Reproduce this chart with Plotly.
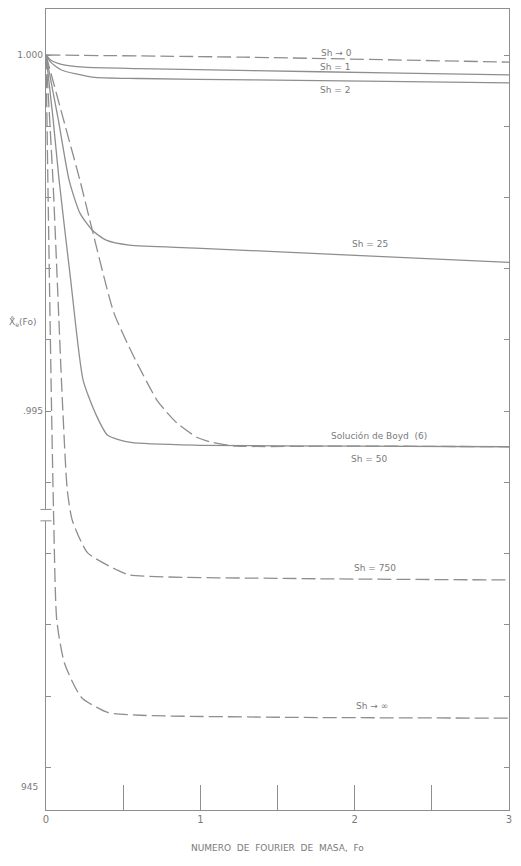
import plotly.graph_objects as go

# ---------------- data ----------------
fo_sh0 = [0, 1.28, 3.0]
x_sh0 = [1.0, 0.99997, 0.99990]

fo_sh1 = [0, 0.03, 0.10, 0.25, 0.60, 1.34, 2.20, 3.0]
x_sh1 = [1.0, 0.99993, 0.99987, 0.99983, 0.99981, 0.99978, 0.99975, 0.99972]

fo_sh2 = [0, 0.03, 0.10, 0.30, 0.60, 1.34, 2.20, 3.0]
x_sh2 = [1.0, 0.99990, 0.99979, 0.99969, 0.99967, 0.99965, 0.99963, 0.99961]

fo_sh25 = [0, 0.08, 0.15, 0.22, 0.30, 0.39, 0.54, 0.97, 1.97, 3.0]
x_sh25 = [1.0, 0.99909, 0.99824, 0.99778, 0.99754, 0.99740, 0.99733, 0.99729, 0.99719, 0.99709]

fo_boyd = [0, 0.11, 0.22, 0.30, 0.44, 0.57, 0.72, 0.78, 0.85, 0.98, 1.08, 1.23, 2.0, 3.0]
x_boyd = [1.0, 0.99912, 0.99824, 0.99754, 0.99638, 0.99576, 0.99515, 0.99499, 0.99483,
          0.99463, 0.99456, 0.99451, 0.99451, 0.99450]

fo_sh50 = [0, 0.045, 0.085, 0.16, 0.24, 0.32, 0.40, 0.55, 1.0, 2.0, 3.0]
x_sh50 = [1.0, 0.99912, 0.99824, 0.99684, 0.99544, 0.99497, 0.99466, 0.99456, 0.99452, 0.99451, 0.99450]

fo_sh750 = [0, 0.045, 0.106, 0.138, 0.17, 0.27, 0.46, 0.54, 1.62, 3.0]
x_sh750 = [1.0, 0.99824, 0.99515, 0.99389, 0.99347, 0.99301, 0.99277, 0.99270, 0.99265, 0.99263]

fo_shinf = [0, 0.012, 0.035, 0.05, 0.07, 0.12, 0.23, 0.40, 0.61, 1.63, 3.0]
x_shinf = [1.0, 0.99824, 0.99515, 0.99347, 0.99206, 0.99146, 0.99098, 0.99077, 0.99073, 0.99070, 0.99069]

x_ticks = [0, 0.5, 1, 1.5, 2, 2.5, 3]
x_ticktext = ["0", " ", "1", " ", "2", " ", "3"]
y_ticks = [0.990, 0.991, 0.992, 0.993, 0.994, 0.995, 0.996, 0.997, 0.998, 0.999, 1.000]
y_ticktext = [" ", " ", " ", " ", " ", ".995", " ", " ", " ", " ", "1.000"]

labels = [
    ("Sh → 0", 1.885, 1.000028),
    ("Sh = 1", 1.87, 0.999831),
    ("Sh = 2", 1.87, 0.999508),
    ("Sh = 25", 2.10, 0.997346),
    ("Solución de Boyd  (6)", 2.16, 0.994649),
    ("Sh = 50", 2.095, 0.994326),
    ("Sh = 750", 2.13, 0.992795),
    ("Sh → ∞", 2.11, 0.990857),
]

# ---------------- figure ----------------
GREY = "#8e8e8e"
TXT = "#7a7a7a"
DASH = "14px,5px"
fig = go.Figure()

series = [
    (fo_sh0, x_sh0, DASH),
    (fo_sh1, x_sh1, "solid"),
    (fo_sh2, x_sh2, "solid"),
    (fo_sh25, x_sh25, "solid"),
    (fo_boyd, x_boyd, DASH),
    (fo_sh50, x_sh50, "solid"),
    (fo_sh750, x_sh750, DASH),
    (fo_shinf, x_shinf, DASH),
]
for fx, fy, d in series:
    fig.add_trace(go.Scatter(x=fx, y=fy, mode="lines", line_shape="spline",
                             line=dict(color=GREY, width=1.3, dash=d, smoothing=0.6),
                             showlegend=False, hoverinfo="skip"))

for txt, lx, ly in labels:
    fig.add_annotation(x=lx, y=ly, xref="x", yref="y", text=txt, showarrow=False,
                       font=dict(family="DejaVu Sans", size=9, color=TXT))

fig.add_annotation(x=-0.013, y=0.98972, xref="paper", yref="y", text="945", showarrow=False,
                   xanchor="right", font=dict(family="DejaVu Sans", size=9, color=TXT))
fig.add_annotation(x=-0.051, y=0.99625, xref="paper", yref="y", text="X̊<sub>e</sub>(Fo)",
                   showarrow=False, xanchor="center",
                   font=dict(family="DejaVu Sans", size=9, color=TXT))
fig.add_annotation(x=0.5, y=-0.056, xref="paper", yref="paper",
                   text="NUMERO  DE  FOURIER  DE  MASA,  Fo", showarrow=False,
                   font=dict(family="DejaVu Sans", size=9, color=TXT))

# axis break marks on the left axis
fig.add_shape(type="rect", xref="paper", yref="y", x0=-0.012, x1=0.012, y0=0.99346, y1=0.99362,
              fillcolor="white", line=dict(width=0), layer="above")
for yb in (0.99346, 0.99362):
    fig.add_shape(type="line", xref="paper", yref="y", x0=-0.012, x1=0.012, y0=yb, y1=yb,
                  line=dict(color=GREY, width=1), layer="above")

# the page body has an 8px margin, so the figure is sized to fit inside the window
fig.update_layout(
    width=505, height=850,
    margin=dict(l=38, r=4, t=1, b=48, autoexpand=False),
    paper_bgcolor="white", plot_bgcolor="white",
    xaxis=dict(range=[0, 3.0], tickvals=x_ticks, ticktext=x_ticktext,
               ticks="inside", ticklen=25, tickcolor=GREY, tickwidth=1,
               showline=True, linecolor=GREY, linewidth=1.3, mirror=True,
               showgrid=False, zeroline=False, automargin=False,
               ticklabeloverflow="allow",
               tickfont=dict(family="DejaVu Sans", size=10, color=TXT)),
    yaxis=dict(range=[0.98940, 1.000646], tickvals=y_ticks, ticktext=y_ticktext,
               ticks="inside", ticklen=5, tickcolor=GREY, tickwidth=1,
               showline=True, linecolor=GREY, linewidth=1.3, mirror="ticks",
               showgrid=False, zeroline=False, automargin=False,
               tickfont=dict(family="DejaVu Sans", size=9, color=TXT)),
)

fig.write_html("out.html")
